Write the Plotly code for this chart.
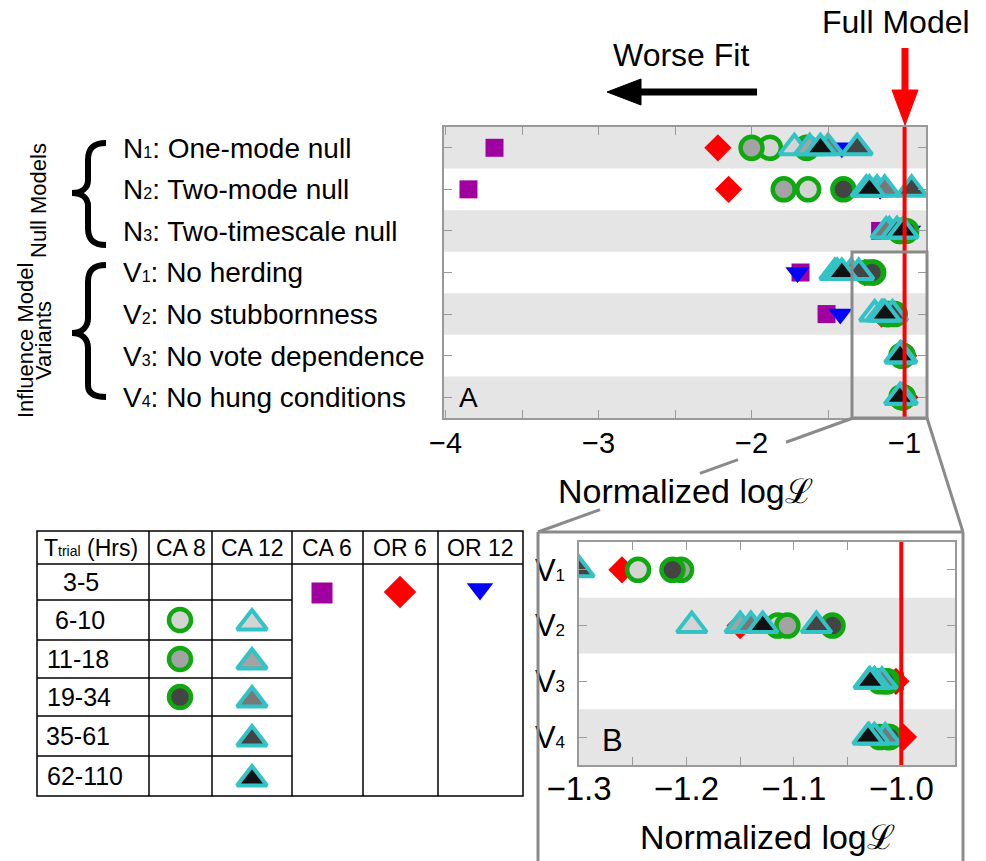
import plotly.graph_objects as go

# ---------------- data ----------------
def sub(s, size=16):
    return '<span style="font-size:%dpx">%s</span>' % (size, s)

row_labels_a = ["N" + sub("1") + ": One-mode null", "N" + sub("2") + ": Two-mode null",
                "N" + sub("3") + ": Two-timescale null", "V" + sub("1") + ": No herding",
                "V" + sub("2") + ": No stubbornness", "V" + sub("3") + ": No vote dependence",
                "V" + sub("4") + ": No hung conditions"]
row_labels_b = ["V" + sub("1", 17), "V" + sub("2", 17), "V" + sub("3", 17), "V" + sub("4", 17)]

# normalized log-likelihood per model (rows N1, N2, N3, V1, V2, V3, V4)
ca6 = [-3.68, -3.85, -1.16, -1.68, -1.51, -1.006, -1.004]
or6 = [-2.22, -2.15, -1.00, -1.26, -1.15, -1.005, -0.998]
or12 = [-1.41, -1.16, -0.97, -1.70, -1.42, -1.010, -1.010]
ca8_6_10 = [-1.88, -1.63, -1.03, -1.245, -1.115, -1.020, -1.020]
ca8_11_18 = [-2.00, -1.79, -1.03, -1.205, -1.106, -1.013, -1.012]
ca8_19_34 = [-1.64, -1.40, -0.99, -1.213, -1.064, -1.015, -1.011]
ca12_6_10 = [-1.72, -1.25, -1.05, -1.455, -1.195, -1.030, -1.030]
ca12_11_18 = [-1.62, -1.18, -1.10, -1.440, -1.150, -1.025, -1.025]
ca12_19_34 = [-1.50, -1.13, -1.12, -1.350, -1.140, -1.018, -1.015]
ca12_35_61 = [-1.31, -0.954, -1.05, -1.300, -1.079, -1.025, -1.025]
ca12_62_110 = [-1.55, -1.23, -1.01, -1.410, -1.129, -1.029, -1.031]

table_columns = ["T" + sub("trial", 14) + " (Hrs)", "CA 8", "CA 12", "CA 6", "OR 6", "OR 12"]
table_bins = ["3-5", "6-10", "11-18", "19-34", "35-61", "62-110"]
full_model = -1.0

# ---------------- styles ----------------
FONT = "Liberation Sans, Arial, sans-serif"
PURPLE, RED, BLUE = "#a000a0", "#ff0000", "#0000ff"
GREEN, CYAN = "#10a810", "#33c3c6"
FILL = {"6-10": "#d4d4d4", "11-18": "#a3a3a3", "19-34c": "#444444",
        "19-34t": "#787878", "35-61": "#444444", "62-110": "#111111"}
BAND = "#e5e5e5"
FRAME = "#999999"

W, H = 986, 861
def px(x):
    return x / W
def py(y):
    return 1 - y / H

series = [
    (ca6, dict(symbol="square", size=18, color=PURPLE, line=dict(width=0))),
    (or6, dict(symbol="diamond", size=21, color=RED, line=dict(width=0))),
    (or12, dict(symbol="triangle-down", size=21, color=BLUE, line=dict(width=0))),
    (ca8_6_10, dict(symbol="circle", size=22, color=FILL["6-10"], line=dict(width=4.5, color=GREEN))),
    (ca8_11_18, dict(symbol="circle", size=22, color=FILL["11-18"], line=dict(width=4.5, color=GREEN))),
    (ca8_19_34, dict(symbol="circle", size=22, color=FILL["19-34c"], line=dict(width=4.5, color=GREEN))),
    (ca12_6_10, dict(symbol="triangle-up", size=26, color=FILL["6-10"], line=dict(width=4, color=CYAN))),
    (ca12_11_18, dict(symbol="triangle-up", size=26, color=FILL["11-18"], line=dict(width=4, color=CYAN))),
    (ca12_19_34, dict(symbol="triangle-up", size=26, color=FILL["19-34t"], line=dict(width=4, color=CYAN))),
    (ca12_35_61, dict(symbol="triangle-up", size=26, color=FILL["35-61"], line=dict(width=4, color=CYAN))),
    (ca12_62_110, dict(symbol="triangle-up", size=26, color=FILL["62-110"], line=dict(width=4, color=CYAN))),
]

fig = go.Figure()
rows_a = list(range(len(row_labels_a)))
rows_b = list(range(len(row_labels_b)))
for vals, mk in series:
    fig.add_trace(go.Scatter(x=vals, y=rows_a, mode="markers", marker=mk,
                             xaxis="x", yaxis="y", showlegend=False, hoverinfo="x"))
for vals, mk in series:
    fig.add_trace(go.Scatter(x=vals[3:], y=rows_b, mode="markers", marker=mk,
                             xaxis="x2", yaxis="y2", showlegend=False, hoverinfo="x"))

# ---------------- table glyphs (pixel overlay axis) ----------------
tab_left, tab_right, tab_top, tab_bottom = 37, 523, 531, 796
col_edges = [37, 149, 212, 292, 363, 438, 523]
row_edges = [531, 564, 600, 640, 678, 716, 756, 796]
row_mid = [(row_edges[i] + row_edges[i + 1]) / 2 for i in range(len(row_edges) - 1)]

ca8_bins = table_bins[1:4]
ca12_bins = table_bins[1:6]
for i, b in enumerate(ca8_bins):
    fig.add_trace(go.Scatter(x=[180], y=[row_mid[2 + i]], mode="markers",
                             marker=dict(symbol="circle", size=22,
                                         color=FILL["19-34c" if b == "19-34" else b],
                                         line=dict(width=4.5, color=GREEN)),
                             xaxis="x4", yaxis="y4", showlegend=False, hoverinfo="skip"))
for i, b in enumerate(ca12_bins):
    fig.add_trace(go.Scatter(x=[252], y=[row_mid[2 + i] + 3], mode="markers",
                             marker=dict(symbol="triangle-up", size=26,
                                         color=FILL["19-34t" if b == "19-34" else b],
                                         line=dict(width=4, color=CYAN)),
                             xaxis="x4", yaxis="y4", showlegend=False, hoverinfo="skip"))
fig.add_trace(go.Scatter(x=[322], y=[593], mode="markers",
                         marker=dict(symbol="square", size=21, color=PURPLE),
                         xaxis="x4", yaxis="y4", showlegend=False, hoverinfo="skip"))
fig.add_trace(go.Scatter(x=[400], y=[592], mode="markers",
                         marker=dict(symbol="diamond", size=25, color=RED),
                         xaxis="x4", yaxis="y4", showlegend=False, hoverinfo="skip"))
fig.add_trace(go.Scatter(x=[480], y=[589], mode="markers",
                         marker=dict(symbol="triangle-down", size=23, color=BLUE),
                         xaxis="x4", yaxis="y4", showlegend=False, hoverinfo="skip"))

# ---------------- shapes ----------------
shapes = []
for r in rows_a:
    if r % 2 == 0:
        shapes.append(dict(type="rect", xref="x domain", yref="y", x0=0, x1=1,
                           y0=r - 0.5, y1=r + 0.5, fillcolor=BAND, line=dict(width=0), layer="below"))
for r in rows_b:
    if r % 2 == 1:
        shapes.append(dict(type="rect", xref="x2 domain", yref="y2", x0=0, x1=1,
                           y0=r - 0.5, y1=r + 0.5, fillcolor=BAND, line=dict(width=0), layer="below"))
shapes.append(dict(type="line", xref="x", yref="y domain", x0=full_model, x1=full_model,
                   y0=0, y1=1, line=dict(color=RED, width=4), layer="above"))
shapes.append(dict(type="line", xref="x2", yref="y2 domain", x0=full_model, x1=full_model,
                   y0=0, y1=1, line=dict(color=RED, width=4), layer="above"))

def pl(x0, y0, x1, y1, color="#8a8a8a", width=3):
    return dict(type="line", xref="x4", yref="y4", x0=x0, y0=y0, x1=x1, y1=y1,
                line=dict(color=color, width=width), layer="above")

shapes.append(dict(type="rect", xref="x4", yref="y4", x0=852, x1=927, y0=252, y1=418,
                   line=dict(color="#8a8a8a", width=3), layer="above"))
def yl(x):
    return 418 + (853 - x) * (532 - 418) / (853 - 538)
for a, b in [(853, 786), (738, 700), (600, 538)]:
    shapes.append(pl(a, yl(a), b, yl(b)))
shapes.append(pl(927, 418, 963, 532))
shapes.append(pl(538, 532, 963, 532))
shapes.append(pl(538, 532, 538, 870))
shapes.append(pl(963, 532, 963, 870))

shapes.append(pl(757, 92, 636, 92, color="black", width=7))
shapes.append(dict(type="path", xref="x4", yref="y4", path="M 607,92 L 641,79 L 641,105 Z",
                   fillcolor="black", line=dict(color="black", width=1), layer="above"))
shapes.append(pl(905, 48, 905, 94, color=RED, width=7))
shapes.append(dict(type="path", xref="x4", yref="y4", path="M 905,125 L 892,90 L 918,90 Z",
                   fillcolor=RED, line=dict(color=RED, width=1), layer="above"))

brace1 = ("M 106,143 C 93,143 88,149 88,160 L 88,180 C 88,188 82,193 72,193 "
          "C 82,193 88,198 88,206 L 88,228 C 88,239 93,245 106,245")
brace2 = ("M 106,265 C 93,265 88,271 88,282 L 88,318 C 88,327 82,333 72,333 "
          "C 82,333 88,339 88,348 L 88,385 C 88,392 93,397 106,397")
for p in (brace1, brace2):
    shapes.append(dict(type="path", xref="x4", yref="y4", path=p,
                       line=dict(color="black", width=6), layer="above"))

TL = dict(color="black", width=1.5)
shapes.append(dict(type="rect", xref="x4", yref="y4", x0=tab_left, x1=tab_right,
                   y0=tab_top, y1=tab_bottom, line=TL, layer="above"))
for x in col_edges[1:-1]:
    shapes.append(dict(type="line", xref="x4", yref="y4", x0=x, x1=x, y0=tab_top, y1=tab_bottom,
                       line=TL, layer="above"))
shapes.append(dict(type="line", xref="x4", yref="y4", x0=tab_left, x1=tab_right,
                   y0=row_edges[1], y1=row_edges[1], line=TL, layer="above"))
for y in row_edges[2:-1]:
    shapes.append(dict(type="line", xref="x4", yref="y4", x0=tab_left, x1=col_edges[3],
                       y0=y, y1=y, line=TL, layer="above"))

# ---------------- annotations ----------------
ann = []
def txt(x, y, s, size, xanchor="center", angle=0):
    ann.append(dict(xref="x4", yref="y4", x=x, y=y, text=s, showarrow=False,
                    xanchor=xanchor, yanchor="middle", textangle=angle,
                    font=dict(family=FONT, size=size, color="black")))

txt(896, 22, "Full Model", 32)
txt(681, 55, "Worse Fit", 32)
txt(468, 397, "A", 28)
txt(612, 740, "B", 31)
txt(685, 491, "Normalized log\u2112", 34)
txt(767, 837, "Normalized log\u2112", 34)
row_y_a = [148, 189, 231, 272, 314, 356, 397]
for lab, y in zip(row_labels_a, row_y_a):
    txt(121, y, lab, 28, xanchor="left")
txt(38, 201, "Null Models", 22, angle=-90)
txt(25, 341, "Influence Model", 22, angle=-90)
txt(43, 341, "Variants", 22, angle=-90)
header_x = [91, 181, 252, 327, 400, 480]
for lab, x in zip(table_columns, header_x):
    txt(x, 548, lab, 23)
bin_x = [81, 80, 78, 79, 78, 85]
for lab, x, y in zip(table_bins, bin_x, row_mid[1:]):
    txt(x, y, lab, 25)

# ---------------- layout ----------------
axis_common = dict(showline=True, mirror="ticks", linecolor=FRAME, linewidth=1.5,
                   ticks="inside", ticklen=8, tickcolor=FRAME, tickwidth=1.2,
                   showgrid=False, zeroline=False, fixedrange=True, automargin=False)

fig.update_layout(
    width=W, height=H, autosize=False,
    margin=dict(l=0, r=0, t=0, b=0, pad=0, autoexpand=False),
    paper_bgcolor="white", plot_bgcolor="rgba(0,0,0,0)",
    font=dict(family=FONT, color="black"),
    xaxis=dict(domain=[px(444), px(926)], range=[-4.01, -0.86], anchor="y",
               tickvals=[-4, -3, -2, -1], tickformat="d",
               tickfont=dict(size=29), ticklabelstandoff=-2,
               minor=dict(dtick=0.5, tick0=0, ticks="inside", ticklen=8, tickcolor=FRAME),
               **axis_common),
    yaxis=dict(domain=[py(418), py(127)], range=[6.5, -0.5], anchor="x",
               tickvals=rows_a, showticklabels=False, **axis_common),
    xaxis2=dict(domain=[px(579), px(955)], range=[-1.3, -0.95], anchor="y2",
                tickvals=[-1.3, -1.2, -1.1, -1.0], tickformat=".1f",
                tickfont=dict(size=33), ticklabelstandoff=-6,
                minor=dict(dtick=0.05, tick0=0, ticks="inside", ticklen=8, tickcolor=FRAME),
                **axis_common),
    yaxis2=dict(domain=[py(765), py(542)], range=[3.5, -0.5], anchor="x2",
                tickvals=rows_b, ticktext=row_labels_b, tickfont=dict(size=31),
                ticklabelstandoff=6, **axis_common),
    xaxis4=dict(domain=[0, 1], range=[0, W], anchor="y4", visible=False,
                fixedrange=True, automargin=False),
    yaxis4=dict(domain=[0, 1], range=[H, 0], anchor="x4", visible=False,
                fixedrange=True, automargin=False),
    shapes=shapes,
    annotations=ann,
)

fig.write_html("out.html", config={"displayModeBar": False},
               post_script="document.body.style.margin='0';document.body.style.padding='0';")
